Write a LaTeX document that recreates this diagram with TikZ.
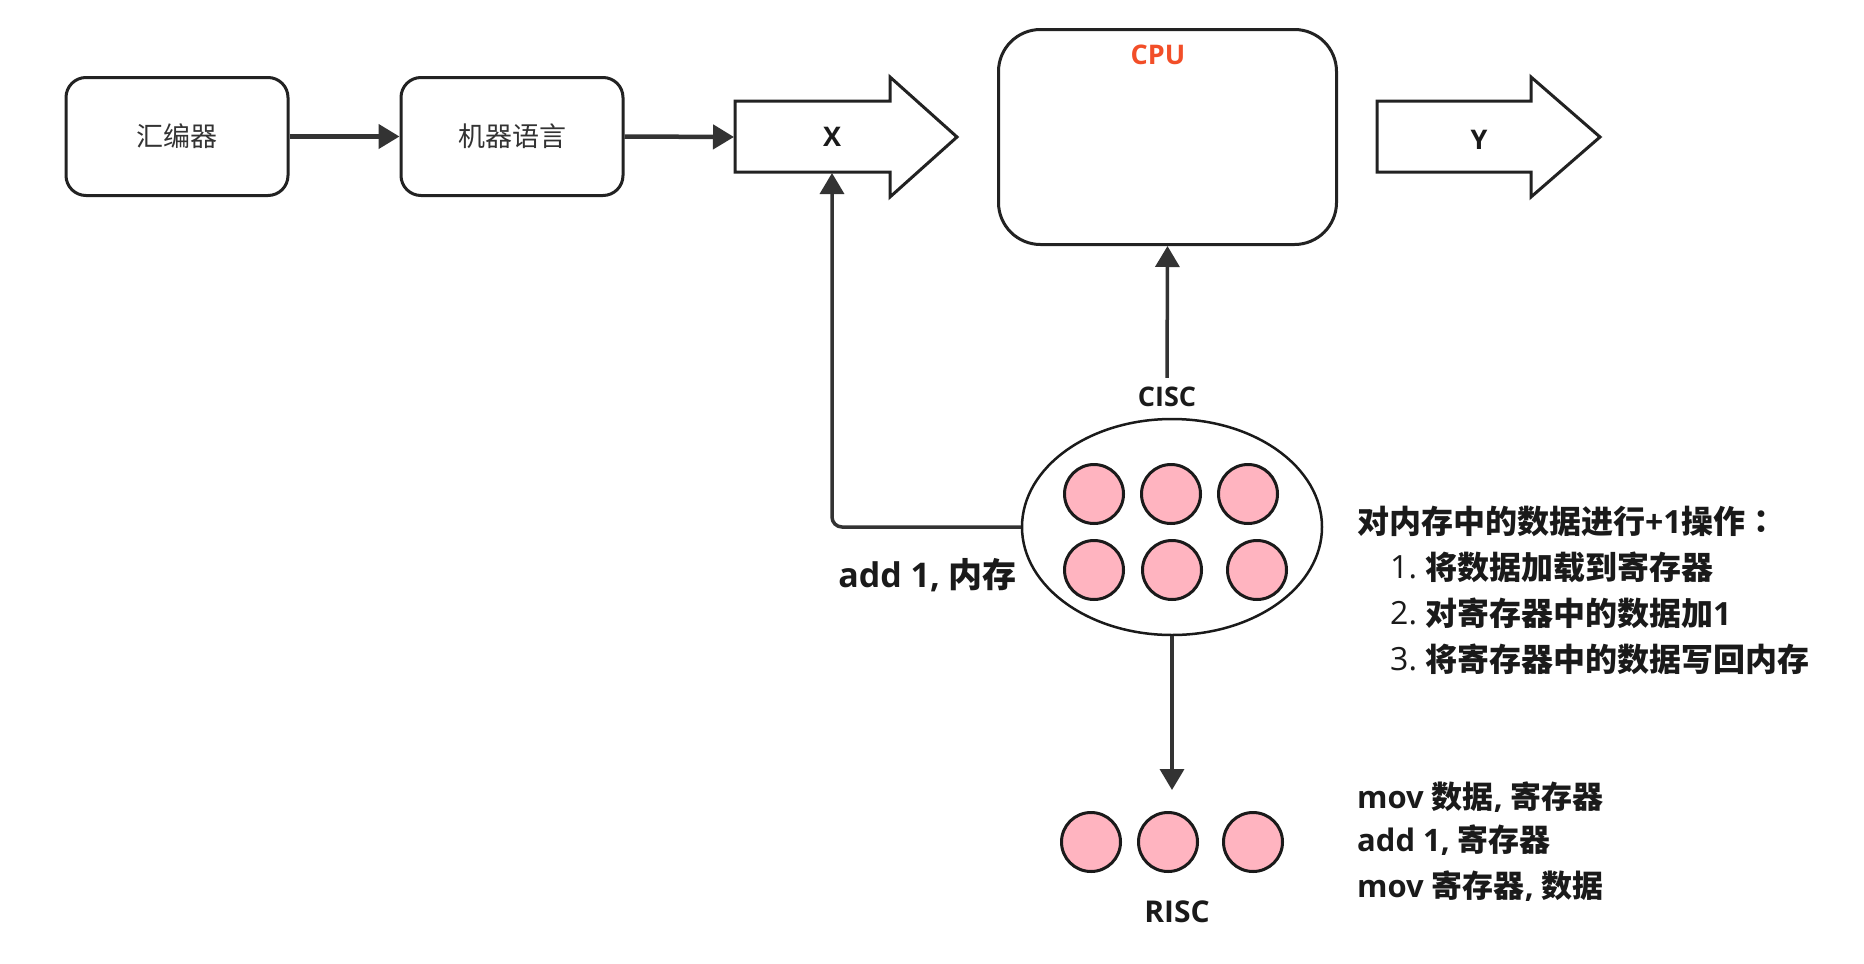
\documentclass[tikz,border=0pt]{standalone}
\usepackage{fontspec}
\usetikzlibrary{arrows.meta,shapes.geometric}
\newfontfamily\cjk{Noto Sans CJK SC}
\newfontfamily\cjkjp{Noto Sans CJK JP}
\newfontfamily\lat{Open Sans}
\definecolor{linec}{HTML}{333333}
\definecolor{strokec}{HTML}{222222}
\definecolor{inkc}{HTML}{1A1A1A}
\definecolor{pinkc}{RGB}{255,180,192}
\definecolor{cpuc}{RGB}{242,78,40}
\begin{document}
\begin{tikzpicture}[x=1pt,y=-1pt,
  box/.style={draw=strokec, line width=3pt, rounded corners=20pt, minimum width=222pt, minimum height=118pt, inner sep=0pt, font=\cjk\fontsize{27}{31}\selectfont, text=linec},
  conn/.style={draw=linec, line width=3.5pt, -{Triangle[length=21pt,width=24pt]}},
  blk/.style={draw=strokec, line width=3pt, line join=miter},
  lbl/.style={inner sep=0pt, font=\lat\bfseries\fontsize{27}{31}\selectfont, text=inkc},
  dot/.style={circle, draw=inkc, line width=3pt, fill=pinkc, minimum size=59pt, inner sep=0pt},
  txt/.style={inner sep=0pt, anchor=west, font=\cjk\bfseries\fontsize{31}{36}\selectfont, text=inkc},
  ltxt/.style={txt, font=\cjk\bfseries\fontsize{32}{37}\selectfont},
  num/.style={inner sep=0pt, anchor=west, font=\lat\fontsize{32}{37}\selectfont, text=inkc},
]
\useasboundingbox (0,0) rectangle (1864,964);
\fill[white] (0,0) rectangle (1864,964);

% top row boxes
\node[box] (b1) at (177,136.5) {汇编器};
\node[box] (b2) at (512,136.5) {机器语言};

% X block arrow
\draw[blk] (735,101) -- (890,101) -- (890,77) -- (957,137) -- (890,197) -- (890,172) -- (735,172) -- cycle;
\node[lbl] (xl) at (832,137) {X};
\coordinate (xtail) at (734,137);
\coordinate (xbot) at (832,173);

% CPU
\node[draw=strokec, line width=3pt, rounded corners=42pt, minimum width=338pt, minimum height=215pt, inner sep=0pt] (cpu) at (1167.5,137) {};
\node[lbl, text=cpuc] (cpul) at (1158,55) {CPU};

% Y block arrow
\draw[blk] (1377,101) -- (1531,101) -- (1531,77) -- (1600,137) -- (1531,197) -- (1531,172) -- (1377,172) -- cycle;
\node[lbl] (yl) at (1479,140) {Y};

% CISC
\node[lbl] (ciscl) at (1167,397) {CISC};
\node[ellipse, draw=inkc, line width=2.5pt, minimum width=300pt, minimum height=216pt, inner sep=0pt] (cisc) at (1172,527) {};
\node[dot] (c1) at (1094,494) {};
\node[dot] (c2) at (1171,494) {};
\node[dot] (c3) at (1248,494) {};
\node[dot] (c4) at (1094,570) {};
\node[dot] (c5) at (1172,570) {};
\node[dot] (c6) at (1257,570) {};

% RISC
\coordinate (risctop) at (1172,790);
\node[dot] (r1) at (1091,842) {};
\node[dot] (r2) at (1168,842) {};
\node[dot] (r3) at (1253,842) {};
\node[lbl, font=\lat\bfseries\fontsize{30}{34}\selectfont] (riscl) at (1177,912) {RISC};

% connectors
\draw[conn, line width=4.5pt] (b1.east) -- (b2.west);
\draw[conn, line width=4.5pt] (b2.east) -- (xtail);
\draw[conn, rounded corners=10pt] (cisc.west) -| (xbot);
\draw[conn, shorten <=9pt] (ciscl.north) -- (cpu.south);
\draw[conn] (cisc.south) -- (risctop);

% labels
\node[txt, anchor=east, font=\cjk\bfseries\fontsize{34}{40}\selectfont] (addl) at (1017,575) {{\lat add 1, }内存};

\node[ltxt] (d0) at (1357,521) {对内存中的数据进行{\lat +1}操作{\cjkjp ：}};
\node[num] (n1) at (1390,567) {1.};
\node[ltxt] (d1) at (1425,567) {将数据加载到寄存器};
\node[num] (n2) at (1390,613) {2.};
\node[ltxt] (d2) at (1425,613) {对寄存器中的数据加{\lat 1}};
\node[num] (n3) at (1390,659) {3.};
\node[ltxt] (d3) at (1425,659) {将寄存器中的数据写回内存};

\node[txt] (m1) at (1357,797) {{\lat mov }数据{\lat , }寄存器};
\node[txt] (m2) at (1357,840) {{\lat add 1, }寄存器};
\node[txt] (m3) at (1357,886) {{\lat mov }寄存器{\lat , }数据};
\end{tikzpicture}
\end{document}
